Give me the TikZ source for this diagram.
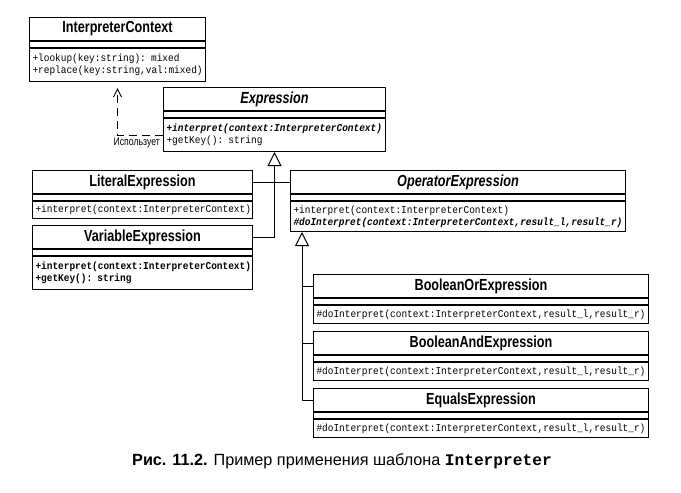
\documentclass[tikz,border=0pt]{standalone}
\usepackage{fontspec}
\setmainfont{Liberation Sans}
\setmonofont{Liberation Mono}
\newfontfamily\titlefont[FakeStretch=0.79]{Liberation Sans}
\newfontfamily\opsmono[FakeStretch=0.9]{Liberation Mono}
\usetikzlibrary{arrows.meta}

\tikzset{
  umltitle/.style={draw, line width=1pt, anchor=north west, inner sep=0pt, minimum height=23pt,
    font={\titlefont\bfseries\fontsize{16}{18}\selectfont}},
  umlgap/.style={draw, line width=1pt, anchor=north west, inner sep=0pt, minimum height=6pt},
  umlops/.style={draw, line width=1pt, anchor=north west, inner xsep=3pt, inner ysep=0pt,
    align=left, font={\opsmono\fontsize{10.5}{12}\selectfont}},
  inherit/.style={line width=1pt, -{Triangle[open, length=14pt, width=14pt, line width=1pt]}},
  uses/.style={line width=1pt, dash pattern=on 8pt off 5pt,
    -{Straight Barb[length=8pt, width=8pt, line width=1pt]}, shorten >=6pt},
}

\begin{document}
\begin{tikzpicture}[x=1pt,y=-1pt]
  \useasboundingbox (0,0) rectangle (681,493);
  % Node: ctx
  \node[umltitle, minimum width=176pt] (ctx) at (29,17) {InterpreterContext};
  \node[umlgap, minimum width=176pt] (ctx-g) at (ctx.south west) {};
  \node[umlops, text width=170pt, minimum height=33pt] (ctx-m) at (ctx-g.south west)
    {+lookup(key:string): mixed\\+replace(key:string,val:mixed)};
  % Node: expr
  \node[umltitle, minimum width=222pt] (expr) at (163,87) {\itshape Expression};
  \node[umlgap, minimum width=222pt] (expr-g) at (expr.south west) {};
  \node[umlops, text width=216pt, minimum height=33pt] (expr-m) at (expr-g.south west)
    {\textbf{\textit{+interpret(context:InterpreterContext)}}\\+getKey(): string};
  % Node: lit
  \node[umltitle, minimum width=220pt] (lit) at (32,170) {LiteralExpression};
  \node[umlgap, minimum width=220pt] (lit-g) at (lit.south west) {};
  \node[umlops, text width=214pt, minimum height=17pt] (lit-m) at (lit-g.south west)
    {+interpret(context:InterpreterContext)};
  % Node: var
  \node[umltitle, minimum width=220pt] (var) at (32,225) {VariableExpression};
  \node[umlgap, minimum width=220pt] (var-g) at (var.south west) {};
  \node[umlops, text width=214pt, minimum height=33pt] (var-m) at (var-g.south west)
    {\textbf{+interpret(context:InterpreterContext)}\\\textbf{+getKey(): string}};
  % Node: op
  \node[umltitle, minimum width=335pt] (op) at (290,170) {\itshape OperatorExpression};
  \node[umlgap, minimum width=335pt] (op-g) at (op.south west) {};
  \node[umlops, text width=329pt, minimum height=30pt] (op-m) at (op-g.south west)
    {+interpret(context:InterpreterContext)\\\textbf{\textit{\#doInterpret(context:InterpreterContext,result\_l,result\_r)}}};
  % Node: or
  \node[umltitle, minimum width=335pt] (or) at (313,274) {BooleanOrExpression};
  \node[umlgap, minimum width=335pt] (or-g) at (or.south west) {};
  \node[umlops, text width=329pt, minimum height=18pt] (or-m) at (or-g.south west)
    {\#doInterpret(context:InterpreterContext,result\_l,result\_r)};
  % Node: and
  \node[umltitle, minimum width=335pt] (and) at (313,331) {BooleanAndExpression};
  \node[umlgap, minimum width=335pt] (and-g) at (and.south west) {};
  \node[umlops, text width=329pt, minimum height=18pt] (and-m) at (and-g.south west)
    {\#doInterpret(context:InterpreterContext,result\_l,result\_r)};
  % Node: eq
  \node[umltitle, minimum width=335pt] (eq) at (313,388) {EqualsExpression};
  \node[umlgap, minimum width=335pt] (eq-g) at (eq.south west) {};
  \node[umlops, text width=329pt, minimum height=18pt] (eq-m) at (eq-g.south west)
    {\#doInterpret(context:InterpreterContext,result\_l,result\_r)};
  % Edge: expr -> ctx
  \draw[uses] (expr-m.west) -| (ctx-m.south);
  \node[anchor=north east, inner sep=1pt, font={\titlefont\fontsize{11}{12}\selectfont}]
    (useslbl) at ([shift={(-2,2)}]expr-m.west) {Использует};
  % Edge: var -> expr
  \draw[inherit] (var.east) -| (expr-m.south);
  % Edge: lit -> expr, op -> expr
  \draw[line width=1pt] (lit.east) -- (op.west);
  % Edge: or, and, eq -> op
  \coordinate (opbase) at ([xshift=12pt]op-m.south west);
  \draw[inherit] (eq.west) -| (opbase);
  \draw[line width=1pt] (or.west) -- (or.west -| opbase);
  \draw[line width=1pt] (and.west) -- (and.west -| opbase);
  % Caption
  \node[font={\fontsize{16.2}{19}\selectfont}] (caption) at (342,461)
    {\textbf{Рис. 11.2.} Пример применения шаблона \texttt{\bfseries Interpreter}};
\end{tikzpicture}
\end{document}
